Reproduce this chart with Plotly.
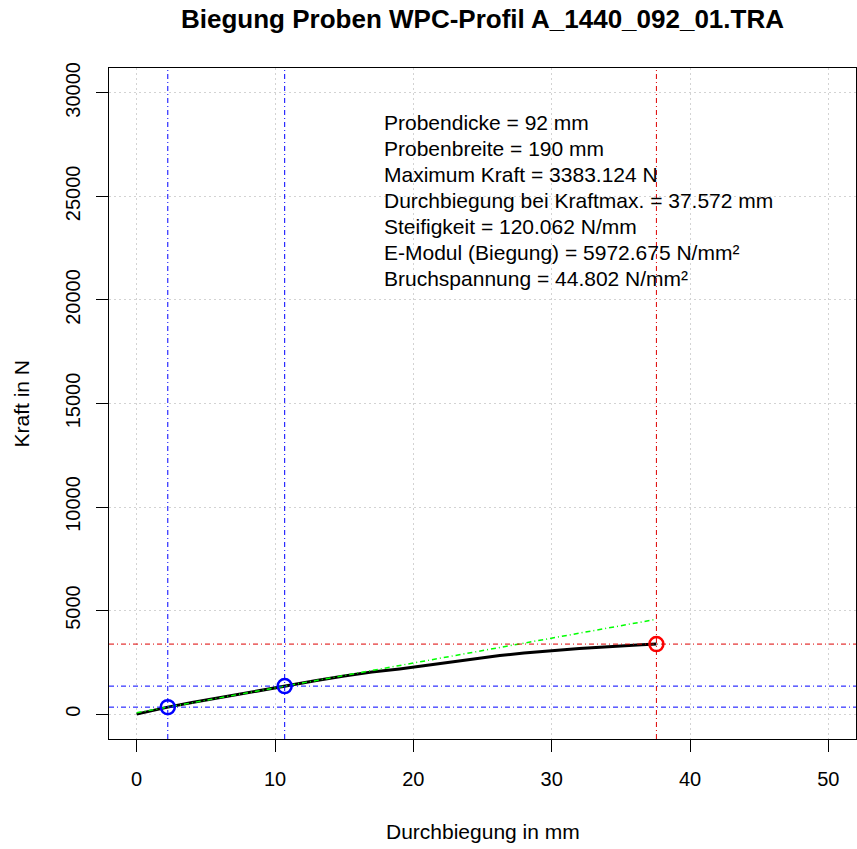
import plotly.graph_objects as go

# ---- data ----
x_curve = [0, 1, 2.25, 4, 6, 8, 10.7, 13, 15, 17, 19, 22, 24, 26.25, 28, 30, 32, 33.5, 35, 36.5, 37.572]
y_curve = [0, 150, 338, 560, 800, 1050, 1353, 1620, 1840, 2030, 2180, 2460, 2640, 2830, 2950, 3070, 3170, 3230, 3300, 3350, 3383.124]

x_fit = [0, 37.572]
y_fit = [68, 4579]

x_pts = [2.25, 10.70]
y_pts = [338.3, 1353.2]

x_max = [37.572]
y_max = [3383.124]

x_ticks = [0, 10, 20, 30, 40, 50]
y_ticks = [0, 5000, 10000, 15000, 20000, 25000, 30000]
y_ticklabels = ["0", "5000", "10000", "15000", "20000", "25000", "30000"]

info_lines = [
    "Probendicke = 92 mm",
    "Probenbreite = 190 mm",
    "Maximum Kraft = 3383.124 N",
    "Durchbiegung bei Kraftmax. = 37.572 mm",
    "Steifigkeit = 120.062 N/mm",
    "E-Modul (Biegung) = 5972.675 N/mm²",
    "Bruchspannung = 44.802 N/mm²",
]

title = "Biegung Proben WPC-Profil A_1440_092_01.TRA"
x_title = "Durchbiegung in mm"
y_title = "Kraft in N"

FONT = "Liberation Sans, Arial, sans-serif"
DOTDASH = "5px,3px,1px,3px"

# ---- figure ----
W, H = 857, 849
L, R, T, B = 109, 1, 68, 110
pw, ph = W - L - R, H - T - B

fig = go.Figure()

fig.add_trace(go.Scatter(x=x_curve, y=y_curve, mode="lines",
                         line=dict(color="black", width=3), hoverinfo="skip"))
fig.add_trace(go.Scatter(x=x_fit, y=y_fit, mode="lines",
                         line=dict(color="#00FF00", width=1.5, dash=DOTDASH), hoverinfo="skip"))

# reference lines
for xv in x_pts:
    fig.add_vline(x=xv, line=dict(color="blue", width=1, dash=DOTDASH))
for yv in y_pts:
    fig.add_hline(y=yv, line=dict(color="blue", width=1, dash=DOTDASH))
fig.add_vline(x=x_max[0], line=dict(color="#DD0000", width=1, dash=DOTDASH))
fig.add_hline(y=y_max[0], line=dict(color="#DD0000", width=1, dash=DOTDASH))

fig.add_trace(go.Scatter(x=x_pts, y=y_pts, mode="markers",
                         marker=dict(symbol="circle-open", size=14, color="blue",
                                     line=dict(color="blue", width=2.5))))
fig.add_trace(go.Scatter(x=x_max, y=y_max, mode="markers",
                         marker=dict(symbol="circle-open", size=14, color="red",
                                     line=dict(color="red", width=2.5))))

def py2paper(py):
    return (T + ph - py) / ph

def px2paper(px):
    return (px - L) / pw

# info text
y0, dy = 122.7, 25.9
for i, line in enumerate(info_lines):
    fig.add_annotation(text=line, xref="paper", yref="paper",
                       x=px2paper(382), y=py2paper(y0 + i * dy),
                       xanchor="left", yanchor="middle", showarrow=False,
                       font=dict(family=FONT, size=21, color="black"))

# axis titles as annotations
fig.add_annotation(text=x_title, xref="paper", yref="paper", x=0.5, y=py2paper(831),
                   xanchor="center", yanchor="middle", showarrow=False,
                   font=dict(family=FONT, size=21, color="black"))
fig.add_annotation(text=y_title, xref="paper", yref="paper", x=px2paper(21), y=0.5,
                   xanchor="center", yanchor="middle", showarrow=False, textangle=-90,
                   font=dict(family=FONT, size=21, color="black"))

fig.update_layout(
    width=W, height=H,
    margin=dict(l=L, r=R, t=T, b=B),
    paper_bgcolor="white", plot_bgcolor="white",
    showlegend=False,
    font=dict(family=FONT, size=20, color="black"),
    title=dict(text="<b>" + title + "</b>", x=0.5, xref="paper",
               y=1 - 18.5 / H, yref="container", yanchor="middle", xanchor="center",
               font=dict(family=FONT, size=26, color="black")),
)

fig.update_xaxes(range=[-2, 52], tickvals=x_ticks, ticks="outside", ticklen=12,
                 tickcolor="black", tickwidth=1, showline=True, linecolor="black",
                 linewidth=1, mirror=True, showgrid=True, gridcolor="#D3D3D3",
                 gridwidth=1, griddash="2px,3px", zeroline=False, ticklabelstandoff=10,
                 tickfont=dict(family=FONT, size=20, color="black"))
fig.update_yaxes(range=[-1200, 31200], tickvals=y_ticks, ticktext=y_ticklabels,
                 ticks="outside", ticklen=12,
                 tickcolor="black", tickwidth=1, showline=True, linecolor="black",
                 linewidth=1, mirror=True, showgrid=True, gridcolor="#D3D3D3",
                 gridwidth=1, griddash="2px,3px", zeroline=False, tickangle=-90,
                 ticklabelstandoff=8,
                 tickfont=dict(family=FONT, size=20, color="black"))

fig.write_html("out.html")
